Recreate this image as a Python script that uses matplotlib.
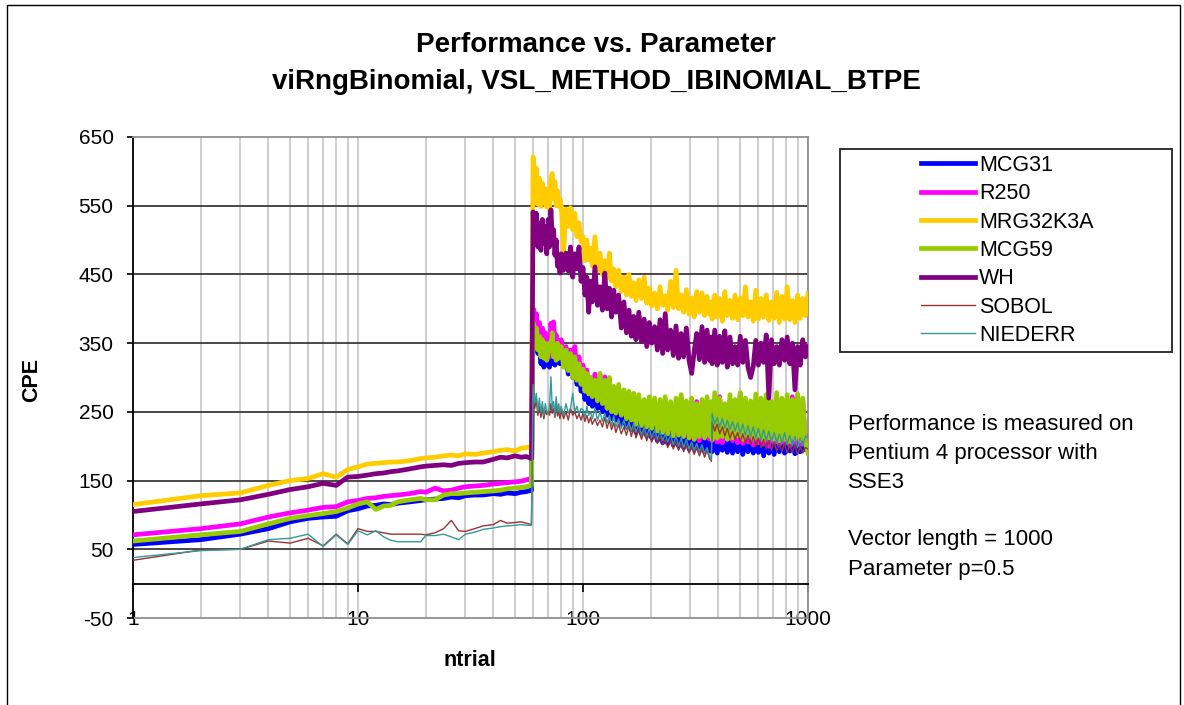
import matplotlib
matplotlib.use("Agg")
import matplotlib.pyplot as plt
from matplotlib.patches import Rectangle
from matplotlib.ticker import LogLocator, NullFormatter

plt.rcParams['font.family'] = ['Liberation Sans', 'DejaVu Sans']
plt.rcParams['axes.unicode_minus'] = False

# ntrial values, below and above the jump at 60
NTRIAL_LOW = [1, 2, 3, 4, 5, 6, 7, 8, 9, 10, 11, 12, 13, 14, 15, 17, 19, 20,
              22, 24, 26, 28, 30, 33, 36, 40, 43, 46, 50, 53, 56, 59]
NTRIAL_HIGH = [60, 61, 62, 63, 64, 65, 66, 67, 68, 69,
               70, 71, 72, 73, 74, 75, 76, 77, 78, 79,
               80, 82, 84, 86, 88, 90, 92, 94, 96, 98,
               100, 102, 104, 106, 108, 110, 113, 116, 119, 122,
               125, 128, 131, 134, 137, 140, 144, 148, 152, 156,
               160, 164, 168, 172, 177, 182, 187, 192, 197, 202,
               208, 214, 220, 226, 232, 238, 245, 252, 259, 266,
               273, 280, 288, 296, 304, 312, 320, 329, 338, 347,
               356, 365, 372, 375, 385, 395, 405, 416, 427, 438,
               450, 462, 474, 487, 500, 513, 527, 541, 556, 571,
               586, 602, 618, 635, 652, 670, 688, 707, 726, 746,
               766, 787, 808, 830, 852, 875, 899, 923, 948, 974,
               1000]

MCG31_LOW = [57, 64, 72, 80, 90, 95, 97, 98, 106, 109, 113, 114, 116, 115, 117,
             119, 121, 122, 123, 124, 126, 125, 128, 129, 129, 131, 130, 132,
             131, 133, 134, 136]
MCG31_HIGH = [390, 355, 360, 335, 345, 320, 335, 315, 330, 318,
              325, 315, 335, 320, 340, 318, 335, 322, 340, 320,
              338, 318, 330, 305, 320, 300, 315, 290, 305, 280,
              290, 268, 282, 262, 278, 258, 270, 255, 268, 250,
              265, 245, 262, 240, 258, 238, 252, 232, 250, 228,
              245, 224, 240, 220, 238, 218, 232, 215, 230, 212,
              228, 208, 225, 205, 222, 204, 220, 202, 218, 200,
              215, 198, 218, 196, 214, 195, 212, 194, 210, 192,
              212, 193, 210, 192, 214, 190, 212, 194, 210, 191,
              208, 190, 212, 192, 210, 188, 212, 192, 206, 190,
              210, 191, 208, 186, 212, 190, 206, 188, 210, 192,
              208, 190, 212, 193, 206, 189, 210, 192, 205, 195,
              214]

R250_LOW = [71, 80, 87, 97, 103, 107, 111, 112, 119, 121, 124, 125, 127, 128,
            129, 131, 134, 133, 139, 135, 136, 139, 141, 142, 143, 145, 146,
            147, 148, 149, 151, 153]
R250_HIGH = [401, 375, 393, 360, 380, 355, 372, 350, 365, 340,
             345, 330, 379, 360, 381, 350, 362, 340, 354, 335,
             355, 330, 345, 320, 340, 315, 345, 305, 330, 300,
             318, 290, 311, 286, 300, 280, 305, 275, 296, 270,
             301, 268, 290, 262, 285, 258, 278, 252, 280, 250,
             272, 245, 268, 240, 262, 238, 265, 235, 258, 232,
             260, 228, 255, 225, 262, 222, 258, 220, 250, 218,
             272, 215, 262, 212, 255, 210, 265, 208, 258, 212,
             260, 210, 255, 208, 262, 206, 272, 205, 258, 210,
             265, 208, 255, 205, 277, 204, 260, 206, 258, 202,
             262, 205, 255, 203, 266, 200, 258, 205, 262, 202,
             258, 204, 265, 200, 272, 205, 260, 202, 266, 205,
             214]

MRG32K3A_LOW = [115, 128, 132, 143, 150, 153, 160, 155, 166, 170, 174, 175,
                176, 177, 177, 179, 182, 183, 184, 186, 187, 186, 189, 188, 190,
                192, 194, 195, 193, 197, 198, 200]
MRG32K3A_HIGH = [621, 560, 605, 552, 590, 549, 583, 555, 575, 548,
                 565, 545, 590, 597, 560, 585, 550, 572, 549, 560,
                 552, 482, 545, 520, 547, 515, 539, 505, 525, 498,
                 505, 470, 500, 471, 488, 462, 505, 455, 481, 450,
                 470, 445, 481, 440, 458, 432, 456, 425, 446, 420,
                 450, 418, 438, 412, 442, 415, 446, 408, 430, 404,
                 423, 400, 432, 405, 419, 398, 440, 402, 456, 400,
                 420, 395, 428, 392, 416, 388, 425, 395, 423, 390,
                 418, 392, 410, 385, 420, 388, 415, 382, 425, 390,
                 412, 386, 420, 384, 416, 390, 432, 388, 410, 382,
                 427, 385, 415, 388, 420, 383, 410, 386, 424, 380,
                 418, 385, 432, 384, 412, 380, 420, 386, 415, 390,
                 422]

MCG59_LOW = [62, 71, 76, 87, 95, 99, 102, 105, 110, 116, 119, 108, 113, 114,
             119, 122, 124, 122, 122, 129, 131, 131, 132, 133, 134, 135, 136,
             138, 139, 140, 141, 143]
MCG59_HIGH = [380, 345, 372, 340, 360, 330, 355, 328, 350, 325,
              335, 350, 340, 365, 330, 345, 325, 350, 328, 340,
              345, 315, 340, 310, 335, 300, 330, 296, 320, 290,
              312, 280, 306, 276, 300, 272, 296, 266, 306, 262,
              296, 255, 300, 250, 287, 248, 290, 245, 282, 240,
              280, 238, 277, 232, 275, 230, 268, 228, 272, 226,
              270, 222, 268, 220, 272, 218, 265, 215, 270, 216,
              275, 214, 266, 212, 270, 210, 262, 214, 268, 212,
              272, 215, 265, 210, 278, 212, 270, 214, 262, 210,
              275, 212, 268, 215, 278, 210, 270, 214, 266, 210,
              276, 212, 270, 208, 275, 212, 265, 210, 278, 208,
              270, 210, 275, 206, 268, 210, 276, 208, 270, 205,
              190]

WH_LOW = [105, 116, 122, 130, 137, 141, 146, 143, 155, 156, 158, 160, 161, 163,
          164, 167, 170, 171, 172, 173, 172, 175, 176, 177, 177, 181, 184, 183,
          186, 184, 185, 182]
WH_HIGH = [541, 500, 539, 490, 525, 485, 530, 495, 520, 480,
           530, 490, 544, 505, 515, 478, 500, 462, 475, 452,
           480, 456, 481, 455, 490, 446, 480, 458, 490, 440,
           460, 420, 446, 395, 440, 410, 461, 405, 432, 398,
           452, 400, 430, 388, 427, 395, 420, 372, 410, 365,
           398, 360, 389, 355, 395, 352, 385, 345, 380, 350,
           374, 340, 384, 335, 393, 340, 369, 332, 375, 328,
           364, 330, 372, 325, 306, 338, 364, 326, 374, 322,
           369, 325, 359, 320, 369, 318, 360, 322, 368, 315,
           359, 320, 345, 318, 360, 322, 354, 315, 300, 316,
           354, 318, 350, 322, 362, 270, 355, 320, 345, 318,
           355, 325, 359, 320, 350, 282, 345, 318, 355, 330,
           345]

SOBOL_LOW = [34, 49, 50, 62, 59, 66, 55, 72, 58, 80, 76, 76, 74, 72, 72, 72,
             72, 71, 74, 80, 92, 77, 76, 80, 84, 86, 92, 88, 89, 90, 88, 86]
SOBOL_HIGH = [280, 255, 268, 245, 258, 242, 255, 240, 252, 246,
              250, 245, 262, 248, 255, 242, 258, 244, 252, 240,
              252, 240, 250, 238, 255, 245, 250, 240, 247, 238,
              248, 236, 245, 234, 242, 232, 240, 230, 238, 228,
              242, 226, 238, 224, 234, 220, 232, 218, 228, 216,
              230, 214, 228, 212, 224, 210, 222, 208, 218, 206,
              216, 204, 214, 202, 210, 198, 208, 196, 206, 194,
              204, 192, 202, 190, 200, 188, 198, 186, 196, 184,
              194, 182, 178, 235, 222, 232, 218, 228, 215, 226,
              212, 222, 210, 220, 206, 218, 204, 216, 202, 214,
              200, 212, 198, 210, 196, 208, 194, 206, 193, 204,
              192, 205, 190, 203, 190, 202, 188, 200, 190, 198,
              196]

NIEDERR_LOW = [38, 48, 50, 64, 66, 72, 54, 71, 57, 77, 71, 77, 68, 63, 61, 61,
               61, 70, 70, 72, 68, 64, 72, 75, 79, 81, 83, 84, 85, 86, 85, 85]
NIEDERR_HIGH = [290, 262, 277, 250, 270, 248, 265, 245, 262, 250,
                248, 260, 301, 255, 265, 245, 272, 250, 262, 248,
                258, 245, 262, 248, 255, 277, 250, 258, 246, 255,
                253, 242, 258, 245, 250, 240, 255, 238, 250, 236,
                248, 234, 245, 230, 244, 228, 240, 226, 238, 224,
                236, 222, 234, 220, 232, 216, 228, 214, 226, 212,
                224, 210, 222, 208, 218, 206, 216, 202, 214, 200,
                212, 198, 210, 196, 206, 194, 204, 192, 202, 190,
                198, 186, 180, 248, 232, 242, 228, 240, 226, 238,
                224, 236, 222, 234, 218, 232, 216, 230, 214, 228,
                212, 226, 210, 224, 208, 222, 206, 220, 204, 218,
                204, 220, 202, 216, 200, 214, 198, 212, 200, 215,
                212]

SERIES_NAMES = ["MCG31", "R250", "MRG32K3A", "MCG59", "WH", "SOBOL", "NIEDERR"]
SERIES_VALUES = [MCG31_LOW + MCG31_HIGH, R250_LOW + R250_HIGH,
                 MRG32K3A_LOW + MRG32K3A_HIGH, MCG59_LOW + MCG59_HIGH,
                 WH_LOW + WH_HIGH, SOBOL_LOW + SOBOL_HIGH,
                 NIEDERR_LOW + NIEDERR_HIGH]
SERIES_COLORS = ["#0000FF", "#FF00FF", "#FFCC00", "#99CC00", "#800080",
                 "#993333", "#339999"]
SERIES_WIDTHS = [3.4, 3.4, 3.4, 3.4, 3.4, 1.0, 1.0]

Y_TICKS = [-50, 50, 150, 250, 350, 450, 550, 650]
X_TICKS = [1, 10, 100, 1000]
X_LABELS = ["1", "10", "100", "1000"]

NOTE_LINES = ["Performance is measured on", "Pentium 4 processor with",
              "SSE3", "", "Vector length = 1000", "Parameter p=0.5"]

W, H = 1184, 705


def plot_performance(outfile="out.png"):
    """Draw CPE vs ntrial chart, excel style"""
    fig = plt.figure(figsize=(W / 100, H / 100), dpi=100)
    fig.patch.set_facecolor("white")
    axe = fig.add_axes([133 / W, 1 - 618 / H, 675 / W, 481 / H])

    ntrial = NTRIAL_LOW + NTRIAL_HIGH
    for name, values, color, width in zip(SERIES_NAMES, SERIES_VALUES,
                                          SERIES_COLORS, SERIES_WIDTHS):
        axe.plot(ntrial, values, color=color, lw=width, label=name, zorder=3)

    axe.set_xscale("log")
    axe.set_xlim(1, 1000)
    axe.set_ylim(-50, 650)
    axe.set_yticks(Y_TICKS)
    axe.set_xticks(X_TICKS, labels=X_LABELS)
    axe.xaxis.set_minor_locator(LogLocator(base=10, subs=range(2, 10)))
    axe.xaxis.set_minor_formatter(NullFormatter())

    # grid: light vertical, dark horizontal
    axe.set_axisbelow(True)
    axe.grid(axis="x", which="both", color="#C0C0C0", lw=1.1)
    axe.grid(axis="y", which="major", color="#3A3A3A", lw=1.3)
    ylines = axe.get_ygridlines()
    ylines[0].set_visible(False)
    ylines[-1].set_visible(False)
    axe.axhline(-50, color="#909090", lw=1.3, clip_on=False, zorder=1)

    # horizontal axis crosses at 0
    axe.spines["bottom"].set_position(("data", 0))
    axe.spines["bottom"].set_color("black")
    axe.spines["bottom"].set_linewidth(1.3)
    axe.spines["left"].set_color("black")
    axe.spines["left"].set_linewidth(1.3)
    for side in ("top", "right"):
        axe.spines[side].set_color("#909090")
        axe.spines[side].set_linewidth(1.3)
    axe.tick_params(axis="x", which="major", direction="out", length=6,
                    width=1.2, pad=13, labelsize=15)
    axe.tick_params(axis="x", which="minor", length=0)
    axe.tick_params(axis="y", direction="out", length=4, width=1.2, pad=10,
                    labelsize=15)

    fig.text(596 / W, 1 - 45 / H, "Performance vs. Parameter", ha="center",
             va="center", fontsize=20, fontweight="bold")
    fig.text(596 / W, 1 - 82 / H, "viRngBinomial, VSL_METHOD_IBINOMIAL_BTPE",
             ha="center", va="center", fontsize=20, fontweight="bold")
    fig.text(32 / W, 1 - 380 / H, "CPE", rotation=90, ha="center",
             va="center", fontsize=15.5, fontweight="bold")
    fig.text(470 / W, 1 - 660 / H, "ntrial", ha="center", va="center",
             fontsize=15.5, fontweight="bold")

    for i, line in enumerate(NOTE_LINES):
        fig.text(848 / W, 1 - (424 + 29 * i) / H, line, ha="left",
                 va="center", fontsize=16)

    # legend frame drawn separately, entries centred inside it
    fig.patches.append(Rectangle((840 / W, 1 - 352 / H), 332 / W, 203 / H,
                                 transform=fig.transFigure, facecolor="white",
                                 edgecolor="#222222", lw=1.3, zorder=1))
    handles, labels = axe.get_legend_handles_labels()
    fig.legend(handles, labels, loc="upper left",
               bbox_to_anchor=(921 / W, 1 - 155 / H), frameon=False,
               fontsize=15.5, handlelength=2.5, handletextpad=0.2,
               labelspacing=0.34, borderpad=0, borderaxespad=0)

    # outer chart border
    fig.patches.append(Rectangle((7 / W, -0.02), 1173 / W, 1 - 5 / H + 0.02,
                                 transform=fig.transFigure, fill=False,
                                 edgecolor="black", lw=1.0, zorder=0))

    fig.savefig(outfile, dpi=100)
    print("Chart saved in " + outfile)


if __name__ == "__main__":
    plot_performance()
